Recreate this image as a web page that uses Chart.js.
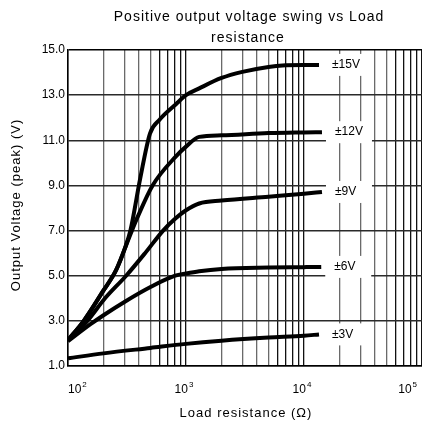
<!DOCTYPE html>
<html>
<head>
<meta charset="utf-8">
<script src="https://cdn.jsdelivr.net/npm/chart.js@4.4.0/dist/chart.umd.min.js"></script>
<style>
  html, body { margin: 0; padding: 0; background: #fff; }
</style>
</head>
<body>
<canvas id="swing" width="422" height="423"></canvas>
<script>
const titleLines = ['Positive output voltage swing vs Load', 'resistance']
const xTitle = 'Load resistance (Ω)'
const yTitle = 'Output Voltage (peak) (V)'

const seriesNames = ['±15V', '±12V', '±9V', '±6V', '±3V']

// load resistance (ohm) / peak output voltage (V) for each supply
const r15 = [100, 136, 200, 253, 303, 338, 409, 495, 594, 822, 1000, 1294, 2000, 3000, 5000, 7000, 10000, 13400]
const v15 = [2.15, 3.0, 4.35, 5.2, 6.2, 7.0, 9.3, 11.3, 11.9, 12.6, 13.0, 13.3, 13.76, 14.03, 14.25, 14.32, 14.34, 14.34]

const r12 = [100, 136, 200, 253, 303, 345, 385, 521, 822, 1000, 1294, 2000, 5000, 10000, 14200]
const v12 = [2.15, 3.0, 4.35, 5.2, 6.2, 6.95, 7.55, 9.0, 10.29, 10.72, 11.15, 11.22, 11.32, 11.35, 11.36]

const r9 = [100, 146, 206, 311, 450, 640, 800, 1000, 1294, 2000, 5000, 10000, 14200]
const v9 = [2.12, 3.0, 4.0, 5.0, 6.0, 7.0, 7.5, 7.9, 8.2, 8.33, 8.5, 8.63, 8.71]

const r6 = [100, 155, 200, 303, 500, 810, 1000, 1294, 2000, 5000, 10000, 14000]
const v6 = [2.1, 2.85, 3.25, 3.85, 4.5, 5.0, 5.1, 5.2, 5.3, 5.36, 5.38, 5.39]

const r3 = [100, 200, 500, 1000, 2000, 5000, 10000, 13400]
const v3 = [1.34, 1.56, 1.8, 1.98, 2.12, 2.26, 2.34, 2.4]

const xDecades = [100, 1000, 10000, 100000]
const xDecadeExp = ['2', '3', '4', '5']
const yTicks = [1, 3, 5, 7, 9, 11, 13, 15]

const FONT = '"Liberation Sans", Arial, sans-serif'

// every 1..9 x 10^n line of the log grid
const xGrid = []
for (let e = 2; e <= 4; e++) {
  for (let m = 1; m <= 9; m++) xGrid.push(m * Math.pow(10, e))
}
xGrid.push(100000)

const pairs = (rs, vs) => rs.map((r, i) => ({ x: r, y: vs[i] }))
const curves = [[r15, v15], [r12, v12], [r9, v9], [r6, v6], [r3, v3]]

const decorations = {
  id: 'decorations',
  afterDraw (chart) {
    const { ctx, chartArea, scales: { x } } = chart
    ctx.save()

    // supply labels next to the end of each curve, on a white patch
    ctx.font = '12px ' + FONT
    ctx.textBaseline = 'middle'
    ctx.textAlign = 'left'
    chart.data.datasets.forEach((ds, i) => {
      const pts = chart.getDatasetMeta(i).data
      const last = pts[pts.length - 1]
      ctx.fillStyle = '#fff'
      ctx.fillRect(last.x + 4, last.y - 11, 46, 22)
      ctx.fillStyle = '#000'
      ctx.fillText(ds.label, last.x + 13, last.y)
    })

    // decade labels 10^n
    ctx.textBaseline = 'alphabetic'
    xDecades.forEach((v, i) => {
      const px = x.getPixelForValue(v)
      ctx.font = '12px ' + FONT
      const w1 = ctx.measureText('10').width
      ctx.font = '8px ' + FONT
      const w2 = ctx.measureText(xDecadeExp[i]).width
      const w = w1 + w2 + 1
      let left = px - 2 - w / 2
      left = Math.max(chartArea.left, Math.min(left, chart.width - 5 - w))
      ctx.font = '12px ' + FONT
      ctx.fillText('10', left, 393)
      ctx.font = '8px ' + FONT
      ctx.fillText(xDecadeExp[i], left + w1 + 1, 387)
    })

    // titles
    ctx.letterSpacing = '1px'
    ctx.textAlign = 'center'
    ctx.font = '14px ' + FONT
    ctx.fillText(titleLines[0], 249, 21)
    ctx.fillText(titleLines[1], 248, 42)

    ctx.font = '13px ' + FONT
    ctx.fillText(xTitle, 246, 417)

    ctx.translate(19.5, 205)
    ctx.rotate(-Math.PI / 2)
    ctx.fillText(yTitle, 0, 0)
    ctx.restore()
  }
}

new Chart(document.getElementById('swing'), {
  type: 'line',
  data: {
    datasets: curves.map((c, i) => ({
      label: seriesNames[i],
      data: pairs(c[0], c[1]),
      borderColor: '#000',
      borderWidth: 4,
      pointRadius: 0,
      cubicInterpolationMode: 'monotone',
      fill: false
    }))
  },
  options: {
    responsive: false,
    animation: false,
    devicePixelRatio: 1,
    layout: { padding: { top: 50, right: -1, bottom: 0, left: 0 } },
    plugins: {
      legend: { display: false },
      tooltip: { enabled: false },
      title: { display: false }
    },
    scales: {
      x: {
        type: 'logarithmic',
        min: 100,
        max: 100000,
        afterBuildTicks: (scale) => { scale.ticks = xGrid.map(v => ({ value: v })) },
        afterFit: (scale) => { scale.height = 57 },
        ticks: { display: false },
        border: { display: true, color: '#000', width: 1.5 },
        grid: {
          drawTicks: false,
          lineWidth: 1.3,
          color: (ctx) => {
            const v = ctx.tick.value
            const m = Math.round(v / Math.pow(10, Math.floor(Math.log10(v) + 1e-9)))
            return (m >= 2 && m <= 5) ? '#6a6a6a' : '#111'
          }
        }
      },
      y: {
        min: 1,
        max: 15,
        afterBuildTicks: (scale) => { scale.ticks = yTicks.map(v => ({ value: v })) },
        afterFit: (scale) => { scale.width = 68 },
        border: { display: true, color: '#000', width: 1.5 },
        ticks: {
          padding: 3,
          color: '#000',
          font: { family: FONT, size: 12 },
          callback: (v) => Number(v).toFixed(1)
        },
        grid: {
          drawTicks: false,
          lineWidth: 1.5,
          color: (ctx) => ctx.tick.value === 15 ? '#000' : '#2a2a2a'
        }
      }
    }
  },
  plugins: [decorations]
})
</script>
</body>
</html>
